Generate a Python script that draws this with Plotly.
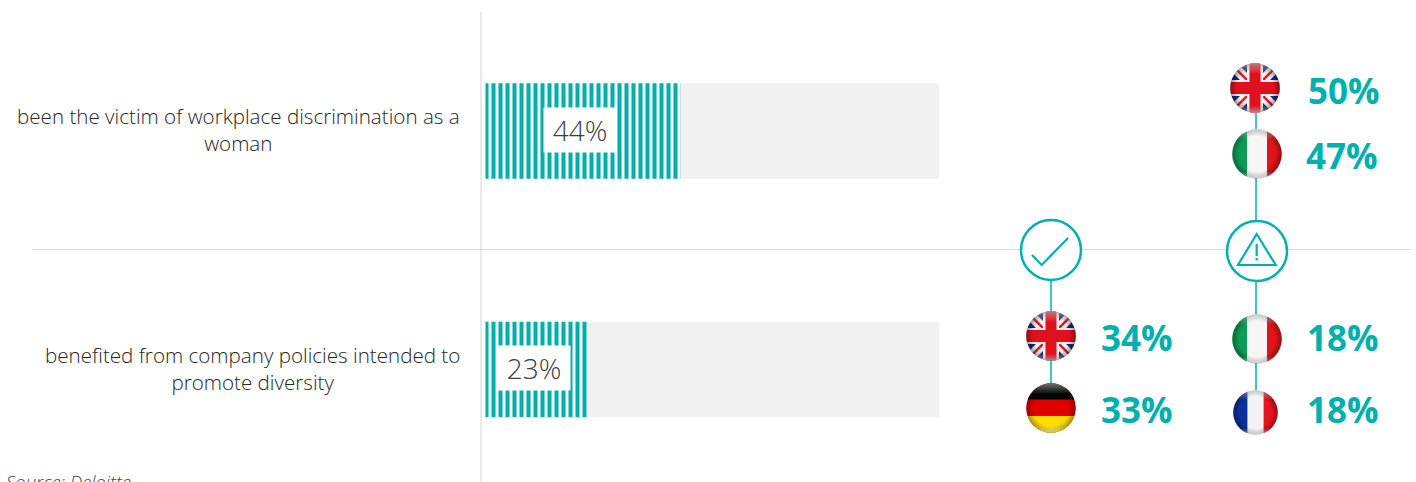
import base64
import plotly.graph_objects as go

W, H = 1416, 482
TEAL = "#00b0ae"
GREY = "#d9d9d9"
FONT = "Open Sans"

categories = ["benefited", "victim"]
category_labels = ["benefited from company policies intended to<br>promote diversity",
                   "been the victim of workplace discrimination as a<br>woman"]
overall_values = [23, 44]
track_values = [102.4, 102.4]
country_codes = ["uk", "it", "uk", "de", "it", "fr"]
country_values = [50, 47, 34, 33, 18, 18]
source_text = "Source: Deloitte"


def px(x):
    return x / W


def py(y):
    return 1 - y / H


def flag_svg(code):
    c = {
        "uk": '<rect width="100" height="100" fill="#1b2a72"/>'
              '<path d="M0 0L100 100M100 0L0 100" stroke="#f4f0f0" stroke-width="20"/>'
              '<path d="M0 0L100 100M100 0L0 100" stroke="#d81e2c" stroke-width="5"/>'
              '<rect x="34" width="32" height="100" fill="#f4f0f0"/><rect y="34" width="100" height="32" fill="#f4f0f0"/>'
              '<rect x="39" width="22" height="100" fill="#e0101f"/><rect y="38" width="100" height="24" fill="#e0101f"/>',
        "it": '<rect width="100" height="100" fill="#f5f5f5"/>'
              '<rect width="30" height="100" fill="#109a55"/><rect x="70" width="30" height="100" fill="#e01518"/>',
        "de": '<rect width="100" height="100" fill="#e00000"/>'
              '<rect width="100" height="33" fill="#060606"/><rect y="66" width="100" height="34" fill="#ffdc00"/>',
        "fr": '<rect width="100" height="100" fill="#f3f3f6"/>'
              '<rect width="32" height="100" fill="#0c2f9c"/><rect x="68" width="32" height="100" fill="#e4131c"/>',
    }[code]
    svg = ('<svg xmlns="http://www.w3.org/2000/svg" width="100" height="100" viewBox="0 0 100 100">'
           '<defs><clipPath id="c"><circle cx="50" cy="50" r="49.5"/></clipPath>'
           '<radialGradient id="g" cx="50%" cy="50%" r="50%">'
           '<stop offset="72%" stop-color="#000" stop-opacity="0"/>'
           '<stop offset="100%" stop-color="#000" stop-opacity="0.35"/></radialGradient>'
           '<linearGradient id="h" x1="0" y1="0" x2="0" y2="1">'
           '<stop offset="0%" stop-color="#fff" stop-opacity="0.45"/>'
           '<stop offset="22%" stop-color="#fff" stop-opacity="0"/>'
           '<stop offset="85%" stop-color="#fff" stop-opacity="0"/>'
           '<stop offset="100%" stop-color="#fff" stop-opacity="0.5"/></linearGradient></defs>'
           f'<g clip-path="url(#c)">{c}<rect width="100" height="100" fill="url(#g)"/>'
           '<rect width="100" height="100" fill="url(#h)"/></g></svg>')
    return "data:image/svg+xml;base64," + base64.b64encode(svg.encode()).decode()


fig = go.Figure()
fig.add_bar(y=categories, x=track_values, orientation="h", width=0.4,
            marker=dict(color="#f1f1f1", line_width=0), hoverinfo="skip", showlegend=False)
fig.add_bar(y=categories, x=overall_values, orientation="h", width=0.4,
            marker=dict(color="white", line_width=0,
                        pattern=dict(shape="|", size=7, solidity=0.58, fgcolor=TEAL,
                                     bgcolor="#ffffff", fillmode="replace")),
            showlegend=False)

ann = []
for cat, val in zip(categories, overall_values):
    ann.append(dict(x=val / 2 - 0.6, y=cat, xref="x", yref="y", text=f"{val}%", showarrow=False,
                    width=70, height=42, bgcolor="white", align="center", valign="middle", yshift=1,
                    font=dict(family=FONT, size=28, color="#404040", weight=300)))
for label, cy, cx in zip(category_labels, [368, 129.5], [252, 238.5]):
    ann.append(dict(x=px(cx), y=py(cy), xref="paper", yref="paper", text=label, showarrow=False,
                    align="center", xanchor="center", yanchor="middle",
                    font=dict(family=FONT, size=20.6, color="#262626", weight=300)))

value_xy = [(1344, 90), (1342, 156), (1136.5, 337), (1136.5, 409), (1343, 337), (1343, 409)]
for v, (x, y) in zip(country_values, value_xy):
    ann.append(dict(x=px(x), y=py(y), xref="paper", yref="paper", text=f"{v}%", showarrow=False,
                    xanchor="center", yanchor="middle",
                    font=dict(family=FONT, size=35, color=TEAL, weight=700)))
ann.append(dict(x=px(4), y=py(488), xref="paper", yref="paper", text=source_text, showarrow=False,
                xanchor="left", yanchor="bottom", yshift=-8,
                font=dict(family=FONT, size=18.5, color="#444444", weight=300, style="italic")))

flag_boxes = [(1230, 63, 50, 50), (1232, 129, 50, 50), (1026, 311, 50, 50),
              (1026, 383, 50, 50), (1232, 314, 50, 50), (1233, 390, 45, 45)]
images = [dict(source=flag_svg(code), xref="paper", yref="paper", x=px(x), y=py(y),
               sizex=w / W, sizey=h / H, xanchor="left", yanchor="top", sizing="stretch", layer="above")
          for code, (x, y, w, h) in zip(country_codes, flag_boxes)]


def line(x0, y0, x1, y1, color=GREY, width=1):
    return dict(type="line", xref="paper", yref="paper", x0=px(x0), y0=py(y0), x1=px(x1), y1=py(y1),
                line=dict(color=color, width=width), layer="above")


def path(points, width=2.2, close=False):
    d = "M" + " L".join(f"{px(x):.5f},{py(y):.5f}" for x, y in points) + (" Z" if close else "")
    return dict(type="path", xref="paper", yref="paper", path=d, line=dict(color=TEAL, width=width), layer="above")


def circle(cx, cy, r, width=2.5, fill="white"):
    return dict(type="circle", xref="paper", yref="paper", x0=px(cx - r), x1=px(cx + r),
                y0=py(cy + r), y1=py(cy - r), line=dict(color=TEAL, width=width),
                fillcolor=fill, layer="above")


shapes = [
    line(481, 12, 481, 482, "#d4d4d4", 1),
    line(32, 249.5, 1410, 249.5, GREY, 1),
    line(1256, 113, 1256, 129, TEAL, 1.5),
    line(1256, 178, 1256, 221, TEAL, 1.5),
    line(1256, 282, 1256, 314, TEAL, 1.5),
    line(1256, 363, 1256, 390, TEAL, 1.5),
    line(1051, 280, 1051, 311, TEAL, 1.5),
    line(1051, 360, 1051, 383, TEAL, 1.5),
    circle(1051, 250, 30),
    circle(1257, 251, 30),
    path([(1032, 255), (1041.7, 265), (1068, 238)]),
    path([(1256.7, 234), (1275.7, 265), (1238, 265)], close=True),
    line(1256.7, 244, 1256.7, 256, TEAL, 2.2),
    line(1256.7, 258, 1256.7, 260.5, TEAL, 2.2),
]

fig.update_layout(
    width=W, height=H, margin=dict(l=0, r=0, t=0, b=0), paper_bgcolor="white", plot_bgcolor="white",
    barmode="overlay", showlegend=False, annotations=ann, images=images, shapes=shapes,
    xaxis=dict(range=[-109.6, 210.05], visible=False, fixedrange=True),
    yaxis=dict(type="category", categoryorder="array", categoryarray=categories,
               range=[-0.472, 1.549], visible=False, fixedrange=True),
)
fig.write_html("out.html", config={"displayModeBar": False},
               post_script="document.body.style.margin='0';document.body.style.overflow='hidden';")
